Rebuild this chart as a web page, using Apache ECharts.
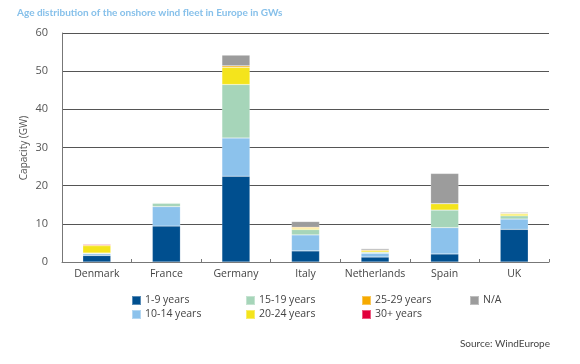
<!DOCTYPE html>
<html><head><meta charset="utf-8">
<script src="https://cdn.jsdelivr.net/npm/echarts@6/dist/echarts.min.js"></script>
<style>html,body{margin:0;padding:0;background:#fff}#c{width:580px;height:364px}</style>
</head><body><div id="c"></div>
<script>
const categories = ['Denmark','France','Germany','Italy','Netherlands','Spain','UK'];
const seriesNames = ['1-9 years','10-14 years','15-19 years','20-24 years','25-29 years','30+ years','N/A'];
const s1_9   = [1.7, 9.4, 22.5, 2.9, 1.3, 2.1, 8.55];
const s10_14 = [0.45, 5.1, 10.0, 4.2, 1.0, 6.9, 2.7];
const s15_19 = [0.2, 0.9, 14.0, 1.4, 0.25, 4.6, 0.85];
const s20_24 = [1.9, 0.15, 4.5, 0.3, 0.35, 1.7, 0.45];
const s25_29 = [0.25, 0.1, 0.4, 0.3, 0.25, 0, 0.2];
const s30p   = [0.2, 0, 0, 0, 0, 0, 0];
const sNA    = [0.05, 0, 2.8, 1.5, 0.35, 7.9, 0.25];
const yTicks = [0,10,20,30,40,50,60];
const colors = ['#004f8f','#8cc2ec','#a6d5b9','#f4e41c','#f6aa00','#e2003c','#9c9c9c'];
const allData = [s1_9, s10_14, s15_19, s20_24, s25_29, s30p, sNA];

const font = 'Open Sans';
const chart = echarts.init(document.getElementById('c'), null, {renderer:'canvas'});
const legendCols = [[0,1],[2,3],[4,5],[6]];
const legendLefts = [126, 240, 356, 464];
chart.setOption({
  animation:false,
  title:{text:'Age distribution of the onshore wind fleet in Europe in GWs', left:12, top:3,
    textStyle:{fontFamily:'Lato', fontSize:10, fontWeight:'bold', color:'#86c0ea'}},
  graphic:[
    {type:'text', right:30, top:339, style:{text:'Source: WindEurope', fontFamily:'Lato', fontSize:10, fill:'#444'}},
    {type:'text', x:24, y:148, rotation:Math.PI/2,
      style:{text:'Capacity (GW)', fontFamily:font, fontSize:10, fill:'#555', align:'center', verticalAlign:'middle'}}
  ],
  legend: legendCols.map((col,i)=>({
    orient:'vertical', left:legendLefts[i], top:290, itemWidth:9, itemHeight:9, itemGap:3,
    icon:'rect', data: col.map(k=>seriesNames[k]),
    textStyle:{fontFamily:font, fontSize:10.5, color:'#444', padding:[0,0,0,-1]}
  })),
  grid:{left:62, right:31, top:33, bottom:102},
  xAxis:{type:'category', data:categories,
    axisLine:{lineStyle:{color:'#777', width:1}},
    axisTick:{show:true, inside:true, length:3, lineStyle:{color:'#777'}},
    axisLabel:{interval:0, fontFamily:font, fontSize:10.5, color:'#444', margin:7}},
  yAxis:{type:'value', min:0, max:60, interval:10,
    axisLine:{show:true, lineStyle:{color:'#777'}},
    axisTick:{show:false},
    axisLabel:{fontFamily:font, fontSize:11, color:'#555', margin:14,
      formatter:v=>yTicks.includes(v)?String(v):''},
    splitLine:{show:true, lineStyle:{color:'#555', width:1}}},
  series: seriesNames.map((n,i)=>({
    name:n, type:'bar', stack:'a', barWidth:28, data:allData[i],
    itemStyle:{color:colors[i], borderColor:'rgba(255,255,255,0.35)', borderWidth:0.5}
  })),
  color: colors
});
</script></body></html>
